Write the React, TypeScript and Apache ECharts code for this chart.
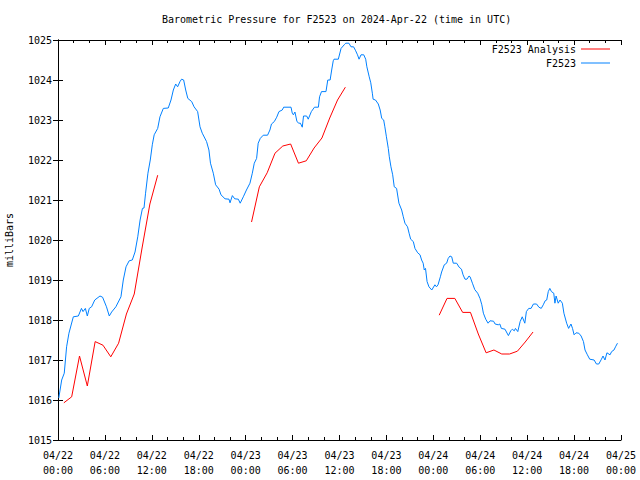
import React, { useEffect, useRef } from "react";
import * as echarts from "echarts";

const titleText = "Barometric Pressure for F2523 on 2024-Apr-22 (time in UTC)";
const yAxisTitle = "milliBars";
const analysisName = "F2523 Analysis";
const stationName = "F2523";

// hours since 04/22 00:00 UTC
const xTickLabels = [
  "04/22\n00:00", "04/22\n06:00", "04/22\n12:00", "04/22\n18:00",
  "04/23\n00:00", "04/23\n06:00", "04/23\n12:00", "04/23\n18:00",
  "04/24\n00:00", "04/24\n06:00", "04/24\n12:00", "04/24\n18:00",
  "04/25\n00:00",
];

const blueHours = [
  0.1, 0.47, 0.8, 1.1, 1.4, 1.96, 2.6, 3.0, 3.2, 3.5, 3.75, 4.0, 4.3, 4.7, 5.37, 5.7, 6.2, 6.56, 6.86, 7.4,
  8.05, 8.35, 8.7, 9.1, 9.5, 9.85, 10.2, 10.5, 10.8, 11.0, 11.2, 11.5, 11.8, 12.06, 12.3, 12.75, 13.04, 13.47, 14.1, 14.45,
  14.75, 15.05, 15.3, 15.6, 15.8, 16.07, 16.33, 16.6, 17.1, 17.4, 17.86, 18.16, 18.45, 19.0, 19.3, 19.5, 19.86, 20.16, 20.6, 20.84,
  21.36, 21.87, 22.0, 22.3, 22.6, 23.06, 23.3, 23.7, 24.1, 24.55, 24.85, 25.1, 25.4, 25.6, 25.87, 26.25, 26.8, 27.1, 27.3, 27.66,
  27.97, 28.26, 28.68, 28.86, 29.8, 29.96, 30.1, 30.3, 30.56, 30.8, 31.0, 31.24, 31.4, 31.8, 32.0, 32.4, 32.8, 33.3, 33.45, 33.7,
  34.27, 34.5, 34.8, 35.0, 35.2, 35.3, 35.85, 36.2, 36.6, 36.8, 37.2, 37.47, 37.8, 38.07, 38.3, 38.5, 38.75, 39.1, 39.35, 39.5,
  39.8, 40.0, 40.2, 40.3, 40.6, 40.96, 41.2, 41.4, 41.65, 41.8, 42.0, 42.24, 42.37, 42.58, 42.8, 43.0, 43.3, 43.6, 43.95, 44.16,
  44.37, 44.7, 44.9, 45.1, 45.44, 45.65, 46.0, 46.3, 46.5, 46.7, 46.84, 47.0, 47.2, 47.44, 47.8, 48.2, 48.4, 48.6, 48.9, 49.06,
  49.4, 49.7, 49.9, 50.13, 50.35, 50.55, 50.98, 51.3, 51.6, 51.8, 52.05, 52.3, 52.56, 52.7, 53.0, 53.3, 53.67, 53.97, 54.2, 54.4,
  54.7, 55.0, 55.25, 55.7, 55.9, 56.3, 56.5, 56.7, 57.16, 57.6, 57.9, 58.1, 58.35, 58.5, 58.8, 59.1, 59.37, 59.7, 59.9, 60.2,
  60.5, 60.8, 61.2, 61.5, 61.8, 62.06, 62.3, 62.5, 62.7, 62.9, 63.1, 63.4, 63.55, 63.7, 63.97, 64.2, 64.5, 64.7, 65.05, 65.3,
  65.6, 65.8, 66.0, 66.25, 66.6, 66.9, 67.2, 67.4, 67.7, 68.0, 68.56, 68.86, 69.16, 69.5, 69.7, 69.95, 70.2, 70.6, 70.8, 71.1,
  71.3, 71.55,
];

const bluePressure = [
  1016.05, 1016.5, 1016.67, 1017.33, 1017.67, 1018.08, 1018.1, 1018.29, 1018.21, 1018.29, 1018.1, 1018.29, 1018.33, 1018.5, 1018.6, 1018.57, 1018.33, 1018.1, 1018.2, 1018.33,
  1018.58, 1019.0, 1019.33, 1019.48, 1019.5, 1019.7, 1020.08, 1020.5, 1020.79, 1020.8, 1021.17, 1021.67, 1022.0, 1022.38, 1022.63, 1022.79, 1023.08, 1023.29, 1023.3, 1023.5,
  1023.75, 1023.9, 1023.83, 1023.96, 1024.02, 1024.0, 1023.75, 1023.54, 1023.46, 1023.33, 1023.21, 1022.83, 1022.67, 1022.46, 1022.25, 1021.92, 1021.67, 1021.38, 1021.27, 1021.13,
  1021.03, 1021.02, 1020.93, 1021.11, 1021.03, 1021.02, 1020.92, 1021.08, 1021.25, 1021.42, 1021.67, 1021.92, 1022.04, 1022.42, 1022.54, 1022.62, 1022.62, 1022.75, 1022.9, 1022.96,
  1023.07, 1023.21, 1023.25, 1023.32, 1023.32, 1023.17, 1023.13, 1023.2, 1022.96, 1022.92, 1022.92, 1022.82, 1023.1, 1023.1, 1023.02, 1023.21, 1023.32, 1023.32, 1023.58, 1023.71,
  1023.71, 1024.0, 1024.0, 1024.25, 1024.48, 1024.52, 1024.52, 1024.79, 1024.88, 1024.92, 1024.92, 1024.83, 1024.83, 1024.73, 1024.63, 1024.52, 1024.63, 1024.63, 1024.52, 1024.33,
  1024.08, 1023.93, 1023.67, 1023.52, 1023.5, 1023.4, 1023.25, 1023.04, 1023.0, 1022.83, 1022.58, 1022.29, 1022.08, 1021.83, 1021.63, 1021.33, 1021.29, 1020.92, 1020.75, 1020.58,
  1020.42, 1020.33, 1020.17, 1020.02, 1019.96, 1019.79, 1019.68, 1019.63, 1019.5, 1019.42, 1019.25, 1019.29, 1018.96, 1018.83, 1018.75, 1018.88, 1018.83, 1018.88, 1019.08, 1019.2,
  1019.38, 1019.42, 1019.54, 1019.6, 1019.58, 1019.42, 1019.42, 1019.32, 1019.27, 1019.13, 1019.02, 1019.02, 1019.1, 1019.08, 1018.92, 1018.76, 1018.67, 1018.54, 1018.38, 1018.17,
  1018.02, 1017.92, 1017.98, 1017.97, 1017.9, 1017.88, 1017.9, 1017.79, 1017.77, 1017.61, 1017.73, 1017.77, 1017.73, 1017.79, 1017.71, 1017.96, 1018.08, 1017.92, 1018.21, 1018.29,
  1018.29, 1018.4, 1018.4, 1018.32, 1018.29, 1018.38, 1018.48, 1018.5, 1018.71, 1018.79, 1018.71, 1018.67, 1018.42, 1018.6, 1018.42, 1018.5, 1018.42, 1018.17, 1017.92, 1017.79,
  1017.9, 1017.79, 1017.63, 1017.68, 1017.67, 1017.6, 1017.46, 1017.25, 1017.13, 1017.02, 1017.0, 1016.9, 1016.9, 1017.02, 1017.1, 1017.0, 1017.18, 1017.13, 1017.21, 1017.25,
  1017.33, 1017.42,
];

// hourly analysis values; null marks a gap between runs
const redHours = [
  0.75, 1.75, 2.75, 3.75, 4.75, 5.75, 6.75, 7.75, 8.75, 9.75, 10.75, 11.75, 12.75,
  18.0,
  24.75, 25.75, 26.75, 27.75, 28.75, 29.75, 30.75, 31.75, 32.75, 33.75, 34.75, 35.75, 36.75,
  42.0,
  48.75, 49.75, 50.75, 51.75, 52.75, 53.75, 54.75, 55.75, 56.75, 57.75, 58.75, 59.75, 60.75,
];
const redPressure: (number | null)[] = [
  1015.93, 1016.08, 1017.1, 1016.35, 1017.46, 1017.37, 1017.08, 1017.42, 1018.15, 1018.65, 1019.8, 1020.9, 1021.62,
  null,
  1020.45, 1021.33, 1021.68, 1022.17, 1022.35, 1022.4, 1021.92, 1021.98, 1022.3, 1022.55, 1023.05, 1023.5, 1023.82,
  null,
  1018.12, 1018.54, 1018.54, 1018.19, 1018.19, 1017.65, 1017.18, 1017.25, 1017.15, 1017.15, 1017.22, 1017.45, 1017.7,
];

const FONT = "'DejaVu Sans Mono', 'Liberation Mono', monospace";

export default function App() {
  const ref = useRef<HTMLDivElement>(null);

  useEffect(() => {
    if (!ref.current) return;
    const chart = echarts.init(ref.current, undefined, { renderer: "svg" });

    const blueData = blueHours.map((h, i) => [h, bluePressure[i]]);
    const redData = redHours.map((h, i) => [h, redPressure[i]]);

    const tickCommon = {
      axisLine: { show: true, lineStyle: { color: "#000", width: 1 } },
      axisTick: { show: true, inside: true, length: 5, lineStyle: { color: "#000" } },
      splitLine: { show: false },
    };

    const xBase = {
      type: "value" as const,
      min: 0,
      max: 72,
      interval: 6,
      ...tickCommon,
      minorTick: { show: true, splitNumber: 3, length: 3, lineStyle: { color: "#000" } },
    };
    const yBase = {
      type: "value" as const,
      min: 1015,
      max: 1025,
      interval: 1,
      ...tickCommon,
    };

    const legendCommon = {
      orient: "vertical" as const,
      align: "right" as const,
      right: 30,
      padding: 0,
      itemWidth: 29,
      itemHeight: 1,
      icon: "rect",
      textStyle: { fontFamily: FONT, fontSize: 10, color: "#000" },
    };

    chart.setOption({
      animation: false,
      backgroundColor: "#fff",
      title: {
        text: titleText,
        left: 162,
        top: 14,
        padding: 0,
        textStyle: { fontFamily: FONT, fontSize: 10, fontWeight: "normal", color: "#000" },
      },
      legend: [
        { ...legendCommon, data: [analysisName], top: 44 },
        { ...legendCommon, data: [stationName], top: 58 },
      ],
      grid: { left: 58, right: 19, top: 40, bottom: 40, containLabel: false, outerBoundsMode: "none" },
      xAxis: [
        {
          ...xBase,
          position: "bottom",
          axisLabel: {
            show: true,
            margin: 8,
            lineHeight: 15,
            fontFamily: FONT,
            fontSize: 10,
            color: "#000",
            hideOverlap: false,
            formatter: (v: number) => xTickLabels[Math.round(v / 6)] ?? "",
          },
        },
        { ...xBase, position: "top", axisLabel: { show: false } },
      ],
      yAxis: [
        {
          ...yBase,
          position: "left",
          name: yAxisTitle,
          nameLocation: "middle",
          nameGap: 44,
          nameRotate: 90,
          nameTextStyle: { fontFamily: FONT, fontSize: 10, color: "#000" },
          axisLabel: {
            show: true,
            margin: 6,
            fontFamily: FONT,
            fontSize: 10,
            color: "#000",
            formatter: (v: number) => String(v),
          },
        },
        { ...yBase, position: "right", axisLabel: { show: false } },
      ],
      series: [
        {
          name: analysisName,
          type: "line",
          xAxisIndex: 0,
          yAxisIndex: 0,
          data: redData,
          showSymbol: false,
          symbol: "none",
          connectNulls: false,
          lineStyle: { color: "#ff0000", width: 1 },
          itemStyle: { color: "#ff0000" },
        },
        {
          name: stationName,
          type: "line",
          xAxisIndex: 0,
          yAxisIndex: 0,
          data: blueData,
          showSymbol: false,
          symbol: "none",
          lineStyle: { color: "#0080ff", width: 1 },
          itemStyle: { color: "#0080ff" },
        },
      ],
    });

    return () => chart.dispose();
  }, []);

  return (
    <div
      ref={ref}
      style={{ position: "fixed", left: 0, top: 0, width: 640, height: 480, background: "#fff" }}
    />
  );
}
